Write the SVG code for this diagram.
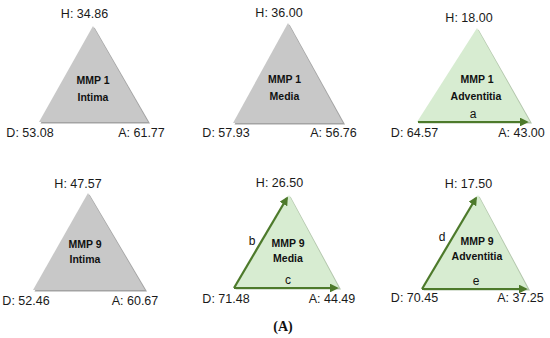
<svg xmlns="http://www.w3.org/2000/svg" width="550" height="338" viewBox="0 0 550 338">
<defs>
<style>
.lbl{font-family:"Liberation Sans",Arial,sans-serif;font-size:12.5px;fill:#1a1a1a;text-anchor:middle}
.ttl{font-family:"Liberation Sans",Arial,sans-serif;font-size:10.5px;font-weight:bold;fill:#111;text-anchor:middle}
.let{font-family:"Liberation Sans",Arial,sans-serif;font-size:12px;fill:#111;text-anchor:middle}
.gray{fill:#c8c8c8}
.green{fill:#d7ecd1}
.gsh{fill:#a3a3a3}
.nsh{fill:#b3c6ac}
.arr{stroke:#4d7a2b;stroke-width:2.2;fill:none;marker-end:url(#ah)}
.cap{font-family:"Liberation Serif","Times New Roman",serif;font-size:14px;font-weight:bold;fill:#111;text-anchor:middle}
</style>
<marker id="ah" viewBox="0 0 10 10" refX="8" refY="5" markerWidth="4" markerHeight="4" orient="auto" markerUnits="strokeWidth">
<path d="M0,0 L10,5 L0,10 z" fill="#4d7a2b"/>
</marker>
</defs>

<g id="t1">
<polygon class="gsh" points="94.5,27.5 150,123.5 40.5,123.5"/>
<polygon class="gray" points="93,26 148,122 39,122"/>
<text class="lbl" x="84.5" y="18">H: 34.86</text>
<text class="ttl" x="93" y="84">MMP 1</text>
<text class="ttl" x="93" y="101">Intima</text>
<text class="lbl" x="30" y="137">D: 53.08</text>
<text class="lbl" x="141.5" y="137">A: 61.77</text>
</g>

<g id="t2">
<polygon class="gsh" points="289.5,24.5 345,124.5 234.5,124.5"/>
<polygon class="gray" points="288,23 343,123 233,123"/>
<text class="lbl" x="279" y="17">H: 36.00</text>
<text class="ttl" x="284.5" y="83">MMP 1</text>
<text class="ttl" x="284.5" y="100">Media</text>
<text class="lbl" x="226" y="137">D: 57.93</text>
<text class="lbl" x="333.5" y="137">A: 56.76</text>
</g>

<g id="t3">
<polygon class="nsh" points="478.5,29.5 532,123.5 418.5,123.5"/>
<polygon class="green" points="477,28 530,122 417,122"/>
<text class="lbl" x="469" y="22">H: 18.00</text>
<text class="ttl" x="477" y="83">MMP 1</text>
<text class="ttl" x="476" y="100">Adventitia</text>
<text class="let" x="473" y="118">a</text>
<text class="lbl" x="414.5" y="137">D: 64.57</text>
<text class="lbl" x="521.5" y="137">A: 43.00</text>
</g>

<g id="t4">
<polygon class="gsh" points="89.5,194.5 147,291.5 34.5,291.5"/>
<polygon class="gray" points="88,193 145,290 33,290"/>
<text class="lbl" x="78" y="188">H: 47.57</text>
<text class="ttl" x="85" y="248">MMP 9</text>
<text class="ttl" x="85" y="263">Intima</text>
<text class="lbl" x="26" y="305">D: 52.46</text>
<text class="lbl" x="135" y="305">A: 60.67</text>
</g>

<g id="t5">
<polygon class="nsh" points="290.5,196.5 341,289.5 235.5,289.5"/>
<polygon class="green" points="289,195 339,288 234,288"/>
<text class="lbl" x="279.5" y="187">H: 26.50</text>
<text class="let" x="252" y="245">b</text>
<text class="ttl" x="288" y="247">MMP 9</text>
<text class="ttl" x="288" y="262">Media</text>
<text class="let" x="288" y="284">c</text>
<text class="lbl" x="226" y="303">D: 71.48</text>
<text class="lbl" x="332" y="303">A: 44.49</text>
</g>

<g id="t6">
<polygon class="nsh" points="479.5,196.5 530,290.5 423.5,290.5"/>
<polygon class="green" points="478,195 528,289 422,289"/>
<text class="lbl" x="468.5" y="188">H: 17.50</text>
<text class="let" x="442" y="241">d</text>
<text class="ttl" x="477" y="245">MMP 9</text>
<text class="ttl" x="477" y="260">Adventitia</text>
<text class="let" x="476" y="285">e</text>
<text class="lbl" x="414.5" y="302">D: 70.45</text>
<text class="lbl" x="520.5" y="302">A: 37.25</text>
</g>

<g id="connectors">
<line class="arr" x1="418" y1="122" x2="527" y2="122"/>
<line class="arr" x1="234" y1="288" x2="337" y2="288"/>
<line class="arr" x1="234" y1="288" x2="287" y2="198"/>
<line class="arr" x1="422" y1="289" x2="526" y2="289"/>
<line class="arr" x1="422" y1="289" x2="476" y2="198"/>
</g>

<text class="cap" x="283" y="331">(A)</text>
</svg>
